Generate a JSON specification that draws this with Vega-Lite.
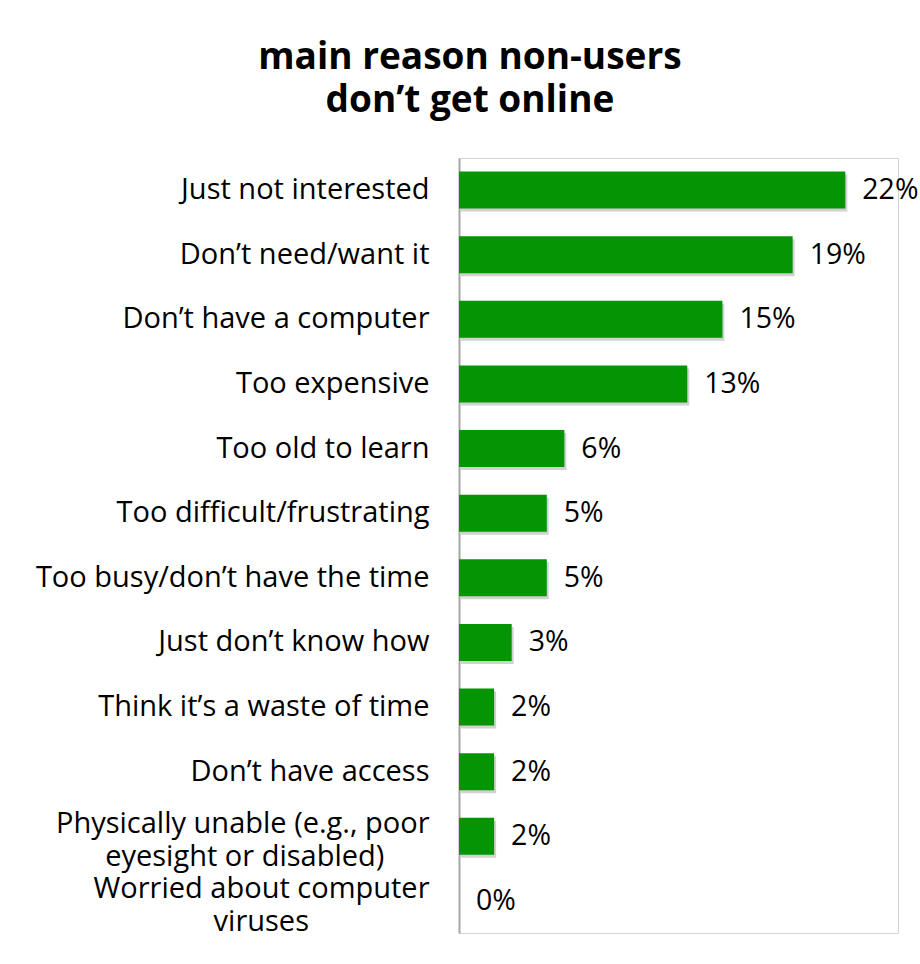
{
  "$schema": "https://vega.github.io/schema/vega-lite/v6.json",
  "width": 439,
  "height": 775,
  "autosize": {"type": "none"},
  "padding": {"left": 459, "top": 158, "right": 22, "bottom": 31},
  "background": "white",
  "config": {"view": {"stroke": "#d4d4d4", "strokeWidth": 1}},
  "title": {
    "text": ["main reason non-users", "don’t get online"],
    "font": "Open Sans",
    "fontSize": 37,
    "fontWeight": "bold",
    "color": "#000000",
    "anchor": "middle",
    "frame": "bounds",
    "offset": 38,
    "dx": -7,
    "lineHeight": 43
  },
  "data": {
    "values": [
      {"reason": "Just not interested", "value": 22, "label": "22%"},
      {"reason": "Don’t need/want it", "value": 19, "label": "19%"},
      {"reason": "Don’t have a computer", "value": 15, "label": "15%"},
      {"reason": "Too expensive", "value": 13, "label": "13%"},
      {"reason": "Too old to learn", "value": 6, "label": "6%"},
      {"reason": "Too difficult/frustrating", "value": 5, "label": "5%"},
      {"reason": "Too busy/don’t have the time", "value": 5, "label": "5%"},
      {"reason": "Just don’t know how", "value": 3, "label": "3%"},
      {"reason": "Think it’s a waste of time", "value": 2, "label": "2%"},
      {"reason": "Don’t have access", "value": 2, "label": "2%"},
      {"reason": "Physically unable (e.g., poor|eyesight or disabled)\u00a0\u00a0\u00a0\u00a0\u00a0\u00a0\u200b", "value": 2, "label": "2%"},
      {"reason": "Worried about computer|viruses\u00a0\u00a0\u00a0\u00a0\u00a0\u00a0\u00a0\u00a0\u00a0\u00a0\u00a0\u00a0\u00a0\u00a0\u00a0\u00a0\u200b", "value": 0, "label": "0%"}
    ]
  },
  "encoding": {
    "y": {
      "field": "reason",
      "type": "nominal",
      "sort": null,
      "scale": {"paddingInner": 0.427, "paddingOuter": 0.209},
      "axis": {
        "title": null,
        "ticks": false,
        "domain": true,
        "domainColor": "#a6a6a6",
        "domainWidth": 2,
        "labelFont": "Open Sans",
        "labelFontSize": 29,
        "labelColor": "#000000",
        "labelPadding": 30,
        "labelLimit": 600,
        "labelLineHeight": 33,
        "labelOffset": {"condition": {"test": "indexof(datum.value, '|') >= 0", "value": -12}, "value": 0},
        "labelExpr": "split(datum.value, '|')"
      }
    },
    "x": {
      "field": "value",
      "type": "quantitative",
      "scale": {"domain": [0, 25], "nice": false},
      "axis": null
    }
  },
  "layer": [
    {
      "mark": {"type": "bar", "color": "#000000", "opacity": 0.18, "xOffset": 2, "yOffset": 3}
    },
    {
      "mark": {"type": "bar", "color": "#049404"}
    },
    {
      "mark": {"type": "text", "align": "left", "baseline": "middle", "dx": 17, "font": "Open Sans", "fontSize": 28.5, "color": "#000000"},
      "encoding": {"text": {"field": "label"}}
    }
  ]
}
